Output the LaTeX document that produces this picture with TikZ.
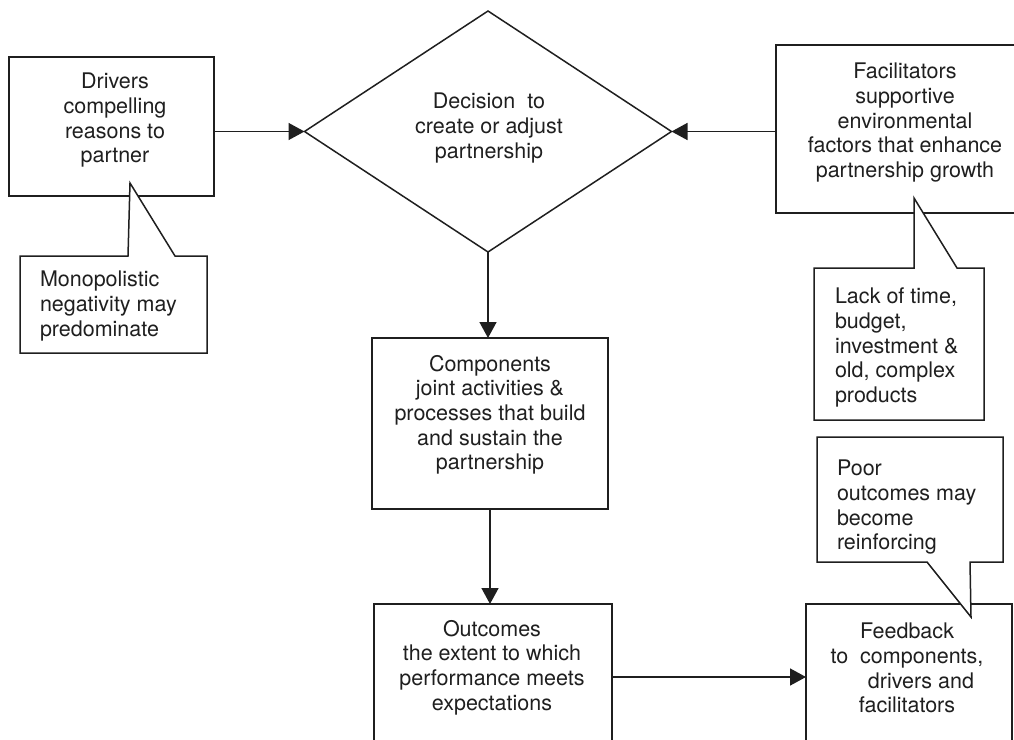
\documentclass[tikz,border=0pt]{standalone}
\usepackage{fontspec}
\setmainfont{TeX Gyre Heros}
\usetikzlibrary{arrows.meta,shapes.geometric}
\definecolor{ink}{gray}{0.12}
\begin{document}
\begin{tikzpicture}[x=1pt,y=-1pt,
  box/.style={draw=ink, line width=1.5pt, rectangle, inner sep=0pt, outer sep=0pt, fill=white},
  decbox/.style={draw=ink, line width=1.5pt, diamond, aspect=1.5, inner sep=0pt, outer sep=0pt},
  txt/.style={inner sep=0pt, outer sep=0pt, text=ink, font=\fontsize{21.5}{24.7}\selectfont},
  ctxt/.style={txt, align=center, anchor=north},
  ltxt/.style={txt, align=left, anchor=north west},
  callout/.style={draw=ink, line width=1.5pt, fill=white, line join=miter},
  arr/.style={draw=ink, line width=1.5pt, -{Triangle[length=16pt,width=17pt]}}]
\useasboundingbox (0,0) rectangle (1014,739);
\clip (0,0) rectangle (1014,739);

% main boxes
\node[box, minimum width=205pt, minimum height=139pt] (drivers) at (111.5,126.5) {};
\node[decbox, minimum width=367pt, minimum height=241pt] (dec) at (488,131.5) {};
\node[box, minimum width=264pt, minimum height=168pt] (fac) at (908,129) {};
\node[box, minimum width=236pt, minimum height=171pt] (comp) at (490,423.5) {};
\node[box, minimum width=238pt, minimum height=146pt] (out) at (493,677) {};
\node[box, minimum width=206pt, minimum height=146pt] (fb) at (909,677) {};

% connectors
\draw[arr] (drivers.east |- dec.west) -- (dec.west);
\draw[arr] (fac.west |- dec.east) -- (dec.east);
\draw[arr] (dec.south) -- (dec.south |- comp.north);
\draw[arr] (comp.south) -- (comp.south |- out.north);
\draw[arr] (out.east) -- (fb.west);

% speech-bubble callouts
\draw[callout] (20,256) -- (128,256) -- (130,183) -- (175,256) -- (207,256)
  -- (207,353) -- (20,353) -- cycle;
\draw[callout] (814,268) -- (914,268) -- (914,198) -- (957,268) -- (984,268)
  -- (984,420) -- (814,420) -- cycle;
\draw[callout] (817,437) -- (1003,437) -- (1003,562) -- (970,562) -- (971,617)
  -- (927,562) -- (817,562) -- cycle;

% texts
\node[ctxt] (driverstxt) at (115,73) {Drivers\\compelling\\reasons to\\partner};
\node[ctxt] (dectxt) at (489,93) {Decision\ \ to\\create or adjust\\partnership};
\node[ctxt] (factxt) at (905,63) {Facilitators\\supportive\\environmental\\factors that enhance\\partnership growth};
\node[ctxt] (comptxt) at (490,355) {Components\\joint activities \&\\processes that build\\and sustain the\\partnership};
\node[ctxt] (outtxt) at (492,620) {Outcomes\\the extent to which\\performance meets\\expectations};
\node[ctxt] (fbtxt) at (907,623) {Feedback\\to\ \ components,\\\hspace*{1.3em}drivers and\\facilitators};
\node[ltxt] (monotxt) at (40,271) {Monopolistic\\negativity may\\predominate};
\node[ltxt] (lacktxt) at (835,288) {Lack of time,\\budget,\\investment \&\\old, complex\\products};
\node[ltxt] (poortxt) at (837,460) {Poor\\outcomes may\\become\\reinforcing};
\end{tikzpicture}
\end{document}
